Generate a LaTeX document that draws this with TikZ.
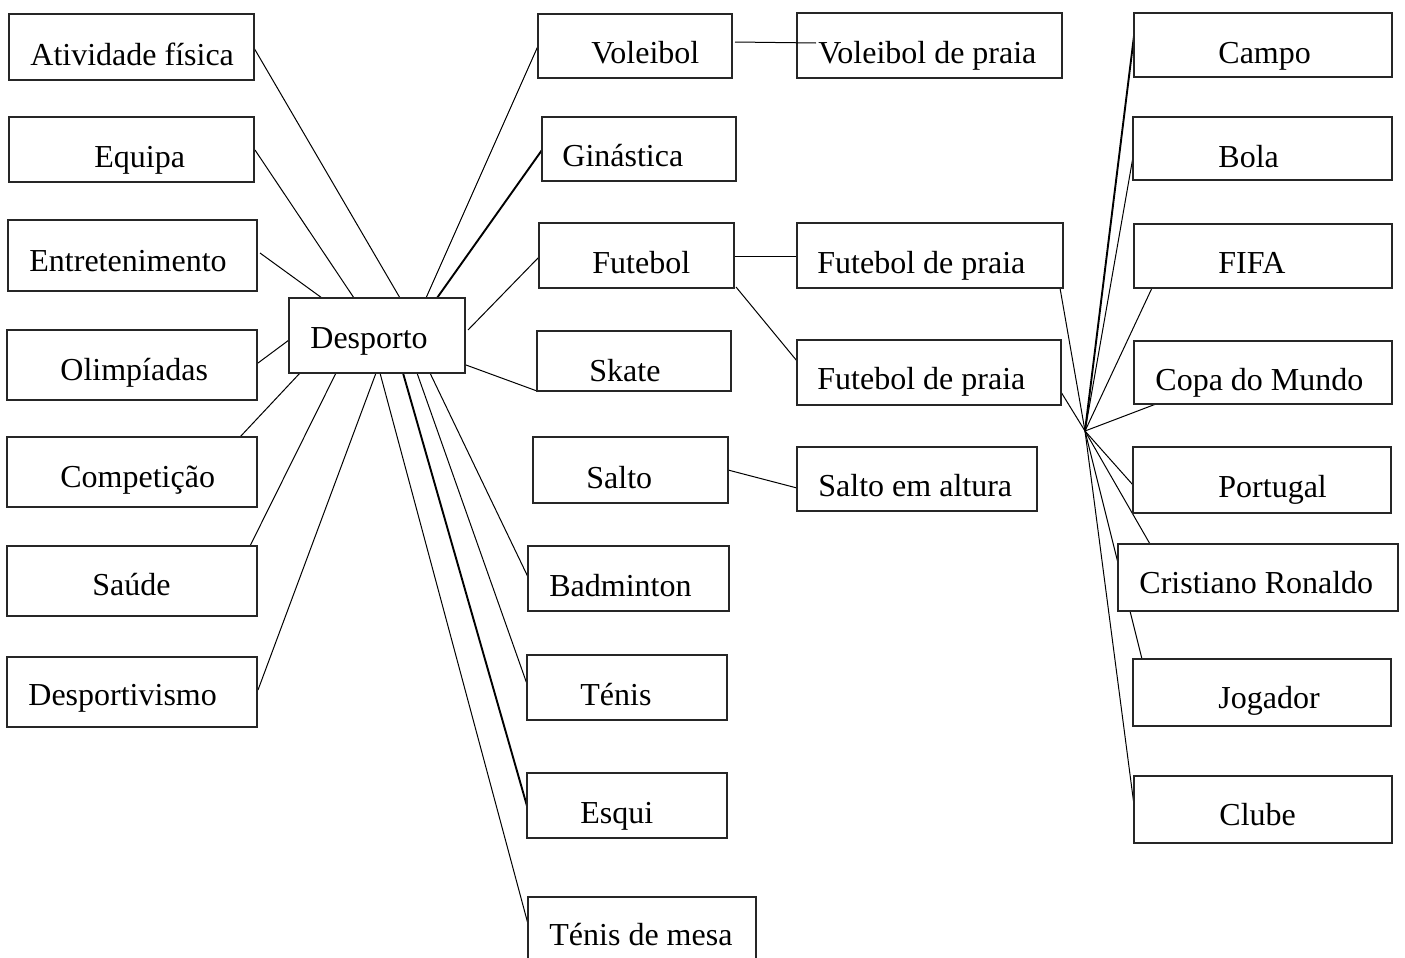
\documentclass[tikz,border=0pt]{standalone}
\usepackage{fontspec}
\setmainfont{Liberation Serif}
\usetikzlibrary{calc,backgrounds}

% box with its own label: name, x1, y1, x2, y2, text x, text baseline y, text
\newcommand\mkbox[8]{%
  \node[box, minimum width={(#4-#2)*0.5pt}, minimum height={(#5-#3)*0.5pt}]
    (#1) at ({(#2+#4)/2},{(#3+#5)/2}) {};
  \node[lbl] (#1-t) at (#6,#7) {#8};
}

\begin{document}
\begin{tikzpicture}[x=0.5pt,y=-0.5pt,
  box/.style={draw=black!85, fill=white, line width=0.65pt, inner sep=0pt, outer sep=0pt},
  lbl/.style={anchor=base west, inner sep=0pt, font=\fontsize{16}{19}\selectfont},
  link/.style={line width=0.5pt},
  boldlink/.style={line width=0.95pt}]

\useasboundingbox (0,0) rectangle (1405,958);

% central topic
\mkbox{desporto}{289}{298}{465}{373}{310}{348}{Desporto}

% left column
\mkbox{atividade}{9}{14}{254}{80}{30}{65}{Atividade física}
\mkbox{equipa}{9}{117}{254}{182}{94}{167}{Equipa}
\mkbox{entretenimento}{8}{220}{257}{291}{29}{271}{Entretenimento}
\mkbox{olimpiadas}{7}{330}{257}{400}{60}{380}{Olimpíadas}
\mkbox{competicao}{7}{437}{257}{507}{60}{487}{Competição}
\mkbox{saude}{7}{546}{257}{616}{92}{595}{Saúde}
\mkbox{desportivismo}{7}{657}{257}{727}{28}{705}{Desportivismo}

% sports column
\mkbox{voleibol}{538}{14}{732}{78}{591}{63}{Voleibol}
\mkbox{ginastica}{542}{117}{736}{181}{562}{166}{Ginástica}
\mkbox{futebol}{539}{223}{734}{288}{592}{273}{Futebol}
\mkbox{skate}{537}{331}{731}{391}{589}{381}{Skate}
\mkbox{salto}{533}{437}{728}{503}{586}{488}{Salto}
\mkbox{badminton}{528}{546}{729}{611}{549}{596}{Badminton}
\mkbox{tenis}{527}{655}{727}{720}{580}{705}{Ténis}
\mkbox{esqui}{527}{773}{727}{838}{580}{823}{Esqui}
\mkbox{tenismesa}{528}{897}{756}{964}{549}{945}{Ténis de mesa}

% variants
\mkbox{voleibolpraia}{797}{13}{1062}{78}{818}{63}{Voleibol de praia}
\mkbox{futebolpraiaA}{797}{223}{1063}{288}{817}{273}{Futebol de praia}
\mkbox{futebolpraiaB}{797}{340}{1061}{405}{817}{389}{Futebol de praia}
\mkbox{saltoaltura}{797}{447}{1037}{511}{818}{496}{Salto em altura}

% football terms
\mkbox{campo}{1134}{13}{1392}{77}{1218}{63}{Campo}
\mkbox{bola}{1133}{117}{1392}{180}{1218}{167}{Bola}
\mkbox{fifa}{1134}{224}{1392}{288}{1218}{273}{FIFA}
\mkbox{copa}{1134}{341}{1392}{404}{1155}{390}{Copa do Mundo}
\mkbox{portugal}{1133}{447}{1391}{513}{1218}{497}{Portugal}
\mkbox{cristiano}{1118}{544}{1398}{611}{1139}{593}{Cristiano Ronaldo}
\mkbox{jogador}{1133}{659}{1391}{726}{1218}{708}{Jogador}
\mkbox{clube}{1134}{776}{1392}{843}{1219}{825}{Clube}

\coordinate (hub) at (1085,431);

\begin{pgfonlayer}{background}
  % white paper under everything
  \fill[white] (0,0) rectangle (1405,958);

  % left topics to the centre
  \draw[link] ($(atividade.north east)+(0,34)$) -- ($(desporto.north west)+(111,0)$);
  \draw[link] ($(equipa.north east)+(1,33)$) -- ($(desporto.north west)+(65,0)$);
  \draw[link] ($(entretenimento.north east)+(3,33)$) -- ($(desporto.north west)+(33,0)$);
  \draw[link] ($(olimpiadas.north east)+(1,33)$) -- ($(desporto.north west)+(0,42)$);
  \draw[link] ($(competicao.north west)+(233,0)$) -- ($(desporto.south west)+(11,0)$);
  \draw[link] ($(saude.north west)+(243,0)$) -- ($(desporto.south west)+(47,0)$);
  \draw[link] ($(desportivismo.north east)+(1,33)$) -- ($(desporto.south west)+(87,0)$);

  % centre to the sports
  \draw[link] ($(desporto.north west)+(137,0)$) -- ($(voleibol.north west)+(0,32)$);
  \draw[boldlink] ($(desporto.north west)+(148,0)$) -- ($(ginastica.north west)+(0,33)$);
  \draw[link] ($(desporto.north east)+(3,32)$) -- ($(futebol.north west)+(0,34)$);
  \draw[link] ($(desporto.north east)+(1,67)$) -- (skate.south west);
  \draw[link] ($(desporto.south west)+(141,0)$) -- ($(badminton.north west)+(0,31)$);
  \draw[link] ($(desporto.south west)+(128,0)$) -- ($(tenis.north west)+(0,29)$);
  \draw[boldlink] ($(desporto.south west)+(114,0)$) -- ($(esqui.north west)+(0,33)$);
  \draw[link] ($(desporto.south west)+(91,0)$) -- ($(tenismesa.north west)+(0,27)$);

  % sports to their variants
  \draw[link] ($(futebol.north east)+(1,33)$) -- ($(futebolpraiaA.north west)+(0,33)$);
  \draw[link] ($(futebol.south east)+(2,-1)$) -- ($(futebolpraiaB.north west)+(0,21)$);
  \draw[link] ($(salto.north east)+(0,33)$) -- ($(saltoaltura.north west)+(0,41)$);

  % beach football fan-out
  \draw[link] ($(futebolpraiaA.south east)+(-3,0)$) -- (hub);
  \draw[link] ($(futebolpraiaB.north east)+(0,52)$) -- (hub);
  \draw[boldlink] (hub) -- ($(campo.north west)+(0,23)$);
  \draw[link] (hub) -- ($(bola.north west)+(0,40)$);
  \draw[link] (hub) -- ($(fifa.south west)+(18,0)$);
  \draw[link] (hub) -- ($(copa.south west)+(22,0)$);
  \draw[link] (hub) -- ($(portugal.north west)+(0,38)$);
  \draw[link] (hub) -- ($(cristiano.north west)+(32,0)$);
  \draw[link] (hub) -- ($(jogador.north west)+(9,0)$);
  \draw[link] (hub) -- ($(clube.north west)+(0,29)$);
\end{pgfonlayer}

% this one runs over the edge of its target box
\draw[link] ($(voleibol.north east)+(3,28)$) -- ($(voleibolpraia.north west)+(19,30)$);

\end{tikzpicture}
\end{document}
